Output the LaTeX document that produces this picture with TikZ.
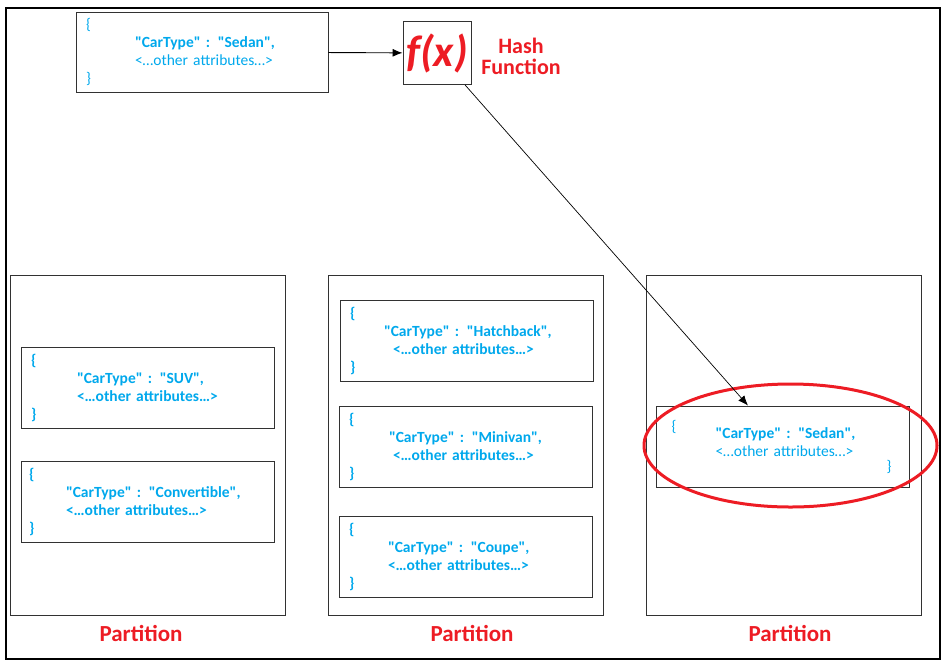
\documentclass[tikz,border=0pt]{standalone}
\usepackage{fontspec}
\setmainfont{Carlito}[Ligatures=TeXOff]
\usetikzlibrary{arrows.meta,positioning}
\definecolor{jsonblue}{RGB}{0,168,236}
\definecolor{hashred}{RGB}{237,28,36}
\definecolor{boxgray}{RGB}{50,50,50}

\begin{document}
\begin{tikzpicture}[x=1pt,y=-1pt,
    rec/.style={draw=boxgray, line width=0.9pt, minimum width=253pt, minimum height=81pt,
      text width=233pt, inner xsep=10pt, inner ysep=0pt, align=left, text=jsonblue,
      font=\fontsize{15.5}{18}\selectfont},
    part/.style={draw=boxgray, line width=0.9pt, minimum width=275pt, minimum height=340pt},
    partlabel/.style={text=hashred, font=\fontsize{23}{23}\selectfont\bfseries},
    tip/.style={-{Latex[length=10pt,width=8pt]}}]
    \useasboundingbox (0,0) rectangle (949,667);
    \draw[line width=2.2pt] (6,8) rectangle (940,659);
    % incoming record and hash function
    \node[rec, minimum width=252pt, minimum height=80pt, text width=232pt] (src) at (202,52)
      {\{\\\hspace*{49pt}\textbf{"CarType" : "Sedan",}\\\hspace*{49pt}<…other attributes…>\\\}};
    \node[draw=boxgray, line width=0.9pt, minimum width=68pt, minimum height=63pt, inner sep=0pt,
      text=hashred, font=\fontsize{44}{44}\selectfont\bfseries\itshape] (fx) at (437,53) {f(x)};
    \node[text=hashred, align=center, font=\fontsize{22}{21}\selectfont\bfseries] (hashlabel) at (521,56) {Hash\\Function};
    % partitions
    \node[part] (part1) at (148,445) {};
    \node[part] (part2) at (465.5,445) {};
    \node[part] (part3) at (783.5,445) {};
    \node[partlabel] (lab1) at (141,633) {Partition};
    \node[partlabel] (lab2) at (472,633) {Partition};
    \node[partlabel] (lab3) at (790,633) {Partition};
    % records in partitions
    \node[rec, font=\fontsize{15.5}{18}\selectfont\bfseries] (suv) at (147.5,388)
      {\{\\\hspace*{46pt}"CarType" : "SUV",\\\hspace*{46pt}<…other attributes…>\\\}};
    \node[rec, font=\fontsize{15.5}{18}\selectfont\bfseries] (conv) at (147.5,501.5)
      {\hspace*{-2pt}\{\\\hspace*{35pt}"CarType" : "Convertible",\\\hspace*{35pt}<…other attributes…>\\\hspace*{-2pt}\}};
    \node[rec, font=\fontsize{15.5}{18}\selectfont\bfseries] (hatch) at (466.5,340.5)
      {\{\\\hspace*{34pt}"CarType" : "Hatchback",\\\hspace*{43pt}<…other attributes…>\\\}};
    \node[rec, font=\fontsize{15.5}{18}\selectfont\bfseries] (minivan) at (465.5,446.5)
      {\{\\\hspace*{40pt}"CarType" : "Minivan",\\\hspace*{44pt}<…other attributes…>\\\}};
    \node[rec, font=\fontsize{15.5}{18}\selectfont\bfseries] (coupe) at (465.5,556.5)
      {\{\\\hspace*{39pt}"CarType" : "Coupe",\\\hspace*{39pt}<…other attributes…>\\\}};
    \node[rec] (sedan) at (783,446.5)
      {\hspace*{5pt}\{\\[-11pt]\hspace*{49pt}\textbf{"CarType" : "Sedan",}\\\hspace*{49pt}<…other attributes…>\\[-3pt]\hspace*{220pt}\}};
    \draw[hashred, line width=3pt] (790.5,445.5) ellipse [x radius=146.5, y radius=61.5];
    % connectors
    \draw[tip, line width=0.9pt] (src) -- (fx);
    \draw[tip, line width=0.7pt] (fx) -- ([xshift=-35pt]sedan.north);
\end{tikzpicture}
\end{document}
